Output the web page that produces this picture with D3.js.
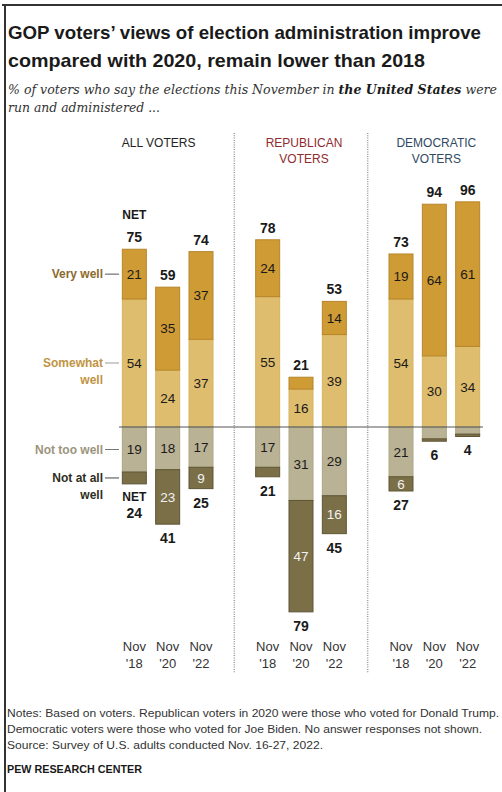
<!DOCTYPE html>
<html>
<head>
<meta charset="utf-8">
<script src="https://cdn.jsdelivr.net/npm/d3@7"></script>
<style>
  html, body { margin: 0; padding: 0; background: #fff; }
  svg { display: block; }
</style>
</head>
<body>
<svg id="chart" width="502" height="792"></svg>
<script>
// Voter groups and survey waves
const groups = ["ALL VOTERS", "REPUBLICAN VOTERS", "DEMOCRATIC VOTERS"];
const years = ["'18", "'20", "'22"];

// Shares (%) per group, per wave
const veryWell      = [[21, 35, 37], [24, 5, 14], [19, 64, 61]];
const somewhatWell  = [[54, 24, 37], [55, 16, 39], [54, 30, 34]];
const notTooWell    = [[19, 18, 17], [17, 31, 29], [21, 5, 3]];
const notAtAllWell  = [[5, 23, 9],   [4, 47, 16],  [6, 1, 1]];
const netWell       = [[75, 59, 74], [78, 21, 53], [73, 94, 96]];
const netNotWell    = [[24, 41, 25], [21, 79, 45], [27, 6, 4]];

const categories = ["Very well", "Somewhat well", "Not too well", "Not at all well"];

const svg = d3.select("#chart");
const sans = "'Liberation Sans', Arial, sans-serif";
const serif = "'DejaVu Serif', Georgia, serif";

// Frame lines
svg.append("line").attr("x1", 2).attr("x2", 502).attr("y1", 5).attr("y2", 5)
  .attr("stroke", "#333").attr("stroke-width", 2);
svg.append("line").attr("x1", 5).attr("x2", 5).attr("y1", 4).attr("y2", 792)
  .attr("stroke", "#333").attr("stroke-width", 2);

// Title
const title = svg.append("g").attr("font-family", sans).attr("font-weight", "bold")
  .attr("font-size", 18.5).attr("fill", "#1a1a1a");
title.append("text").attr("x", 8).attr("y", 39)
  .attr("textLength", 473).attr("lengthAdjust", "spacingAndGlyphs")
  .text("GOP voters\u2019 views of election administration improve");
title.append("text").attr("x", 8).attr("y", 67)
  .attr("textLength", 417).attr("lengthAdjust", "spacingAndGlyphs")
  .text("compared with 2020, remain lower than 2018");

// Subtitle
const sub1 = svg.append("text").attr("x", 8).attr("y", 94)
  .attr("font-family", serif).attr("font-style", "italic").attr("font-size", 12.5)
  .attr("fill", "#333")
  .attr("textLength", 489).attr("lengthAdjust", "spacingAndGlyphs");
sub1.append("tspan").text("% of voters who say the elections this November in ");
sub1.append("tspan").attr("font-weight", "bold").attr("fill", "#1a1a1a").text("the United States");
sub1.append("tspan").text(" were");
svg.append("text").attr("x", 8).attr("y", 112)
  .attr("font-family", serif).attr("font-style", "italic").attr("font-size", 12.5)
  .attr("fill", "#333").attr("textLength", 152).attr("lengthAdjust", "spacingAndGlyphs")
  .text("run and administered ...");

// Scales
const xGroup = d3.scaleBand().domain(groups).range([101, 501]);
const xYear = d3.scaleBand().domain(years).range([0, xGroup.bandwidth()])
  .paddingInner(0.25).paddingOuter(0.625);
const y = d3.scaleLinear().domain([-80, 100]).range([427 + 80 * 2.37, 427 - 100 * 2.37]);

const colors = {
  "Very well": "#cf9b35",
  "Somewhat well": "#dfbd6e",
  "Not too well": "#b9b294",
  "Not at all well": "#7b6f48"
};
const strokes = {
  "Very well": "#b7852a",
  "Somewhat well": "#d6b35f",
  "Not too well": "#aca584",
  "Not at all well": "#5f5535"
};

// Panel separators
[1, 2].forEach(i => {
  const xs = xGroup(groups[i]);
  svg.append("line").attr("x1", xs).attr("x2", xs).attr("y1", 133).attr("y2", 673)
    .attr("stroke", "#9a9a9a").attr("stroke-width", 1.5).attr("stroke-dasharray", "1,1.3");
});

// Panel headings
const headColors = ["#222", "#8e2b2e", "#2f4962"];
const headLines = [["ALL VOTERS"], ["REPUBLICAN", "VOTERS"], ["DEMOCRATIC", "VOTERS"]];
const headShift = [-9, 3, 2];
groups.forEach((g, gi) => {
  const cx = xGroup(g) + xGroup.bandwidth() / 2 + headShift[gi];
  headLines[gi].forEach((t, li) => {
    svg.append("text").attr("x", cx).attr("y", 147 + li * 16)
      .attr("text-anchor", "middle").attr("font-family", sans).attr("font-size", 12)
      .attr("fill", headColors[gi]).text(t);
  });
});

// Build stacked segments
const segs = [];
groups.forEach((g, gi) => {
  years.forEach((yr, yi) => {
    const x0 = xGroup(g) + xYear(yr);
    const vw = veryWell[gi][yi], sw = somewhatWell[gi][yi];
    const nt = notTooWell[gi][yi], na = notAtAllWell[gi][yi];
    segs.push({ gi, yi, x0, cat: "Somewhat well", v: sw, a: 0, b: sw });
    segs.push({ gi, yi, x0, cat: "Very well", v: vw, a: sw, b: sw + vw });
    segs.push({ gi, yi, x0, cat: "Not too well", v: nt, a: 0, b: -nt });
    segs.push({ gi, yi, x0, cat: "Not at all well", v: na, a: -nt, b: -nt - na });
  });
});

const bars = svg.append("g");
bars.selectAll("rect").data(segs).join("rect")
  .attr("x", d => d.x0 + 0.5)
  .attr("width", xYear.bandwidth() - 1)
  .attr("y", d => Math.min(y(d.a), y(d.b)))
  .attr("height", d => Math.abs(y(d.a) - y(d.b)))
  .attr("fill", d => colors[d.cat])
  .attr("stroke", d => strokes[d.cat])
  .attr("stroke-width", 1);

// Segment value labels
svg.append("g").selectAll("text").data(segs.filter(d => d.v >= 6)).join("text")
  .attr("x", d => d.x0 + xYear.bandwidth() / 2)
  .attr("y", d => (y(d.a) + y(d.b)) / 2 + 4.8)
  .attr("text-anchor", "middle")
  .attr("font-family", sans).attr("font-size", 13.5)
  .attr("fill", d => d.cat === "Not at all well" ? "#f2f2f2" : "#1a1a1a")
  .text(d => d.v);

// Zero line
svg.append("line").attr("x1", 119).attr("x2", 483).attr("y1", y(0)).attr("y2", y(0))
  .attr("stroke", "#555").attr("stroke-width", 1);

// NET labels above and below each bar
const netG = svg.append("g").attr("font-family", sans).attr("font-weight", "bold")
  .attr("font-size", 14).attr("fill", "#1a1a1a").attr("text-anchor", "middle");
groups.forEach((g, gi) => {
  years.forEach((yr, yi) => {
    const cx = xGroup(g) + xYear(yr) + xYear.bandwidth() / 2;
    const top = y(veryWell[gi][yi] + somewhatWell[gi][yi]);
    const bottom = y(-notTooWell[gi][yi] - notAtAllWell[gi][yi]);
    const first = gi === 0 && yi === 0;
    netG.append("text").attr("x", cx).attr("y", top - 7).text(netWell[gi][yi]);
    if (first) {
      netG.append("text").attr("x", cx).attr("y", top - 30).attr("font-size", 12).text("NET");
      netG.append("text").attr("x", cx).attr("y", bottom + 17).attr("font-size", 12).text("NET");
      netG.append("text").attr("x", cx).attr("y", bottom + 34).text(netNotWell[gi][yi]);
    } else {
      netG.append("text").attr("x", cx).attr("y", bottom + 19).text(netNotWell[gi][yi]);
    }
  });
});

// Category labels beside the first bar
const labelColors = {
  "Very well": "#8c6a2c",
  "Somewhat well": "#bf9443",
  "Not too well": "#9b957c",
  "Not at all well": "#2e2e22"
};
const dashColors = {
  "Very well": "#555",
  "Somewhat well": "#999",
  "Not too well": "#777",
  "Not at all well": "#444"
};
const labelLines = {
  "Very well": ["Very well"],
  "Somewhat well": ["Somewhat", "well"],
  "Not too well": ["Not too well"],
  "Not at all well": ["Not at all", "well"]
};
const firstSegs = segs.filter(d => d.gi === 0 && d.yi === 0);
categories.forEach(cat => {
  const s = firstSegs.find(d => d.cat === cat);
  const cy = (y(s.a) + y(s.b)) / 2;
  svg.append("line").attr("x1", 105).attr("x2", 119).attr("y1", cy).attr("y2", cy)
    .attr("stroke", dashColors[cat]).attr("stroke-width", 1);
  labelLines[cat].forEach((t, i) => {
    svg.append("text").attr("x", 103).attr("y", cy + 4.3 + i * 17)
      .attr("text-anchor", "end").attr("font-family", sans).attr("font-weight", "bold")
      .attr("font-size", 12).attr("fill", labelColors[cat]).text(t);
  });
});

// Wave labels along the bottom
groups.forEach(g => {
  years.forEach(yr => {
    const cx = xGroup(g) + xYear(yr) + xYear.bandwidth() / 2;
    const t = svg.append("text").attr("x", cx).attr("text-anchor", "middle")
      .attr("font-family", sans).attr("font-size", 13).attr("fill", "#333");
    t.append("tspan").attr("x", cx).attr("y", 651).text("Nov");
    t.append("tspan").attr("x", cx).attr("y", 668).text(yr);
  });
});

// Notes and source
const notes = [
  ["Notes: Based on voters. Republican voters in 2020 were those who voted for Donald Trump.", 492],
  ["Democratic voters were those who voted for Joe Biden. No answer responses not shown.", 475],
  ["Source: Survey of U.S. adults conducted Nov. 16-27, 2022.", 316]
];
notes.forEach(([t, w], i) => {
  svg.append("text").attr("x", 7).attr("y", 717 + i * 16)
    .attr("font-family", sans).attr("font-size", 11).attr("fill", "#333")
    .attr("textLength", w).attr("lengthAdjust", "spacingAndGlyphs").text(t);
});
svg.append("text").attr("x", 7).attr("y", 773)
  .attr("font-family", sans).attr("font-weight", "bold").attr("font-size", 11)
  .attr("fill", "#1a1a1a").attr("textLength", 135).attr("lengthAdjust", "spacingAndGlyphs")
  .text("PEW RESEARCH CENTER");
</script>
</body>
</html>
